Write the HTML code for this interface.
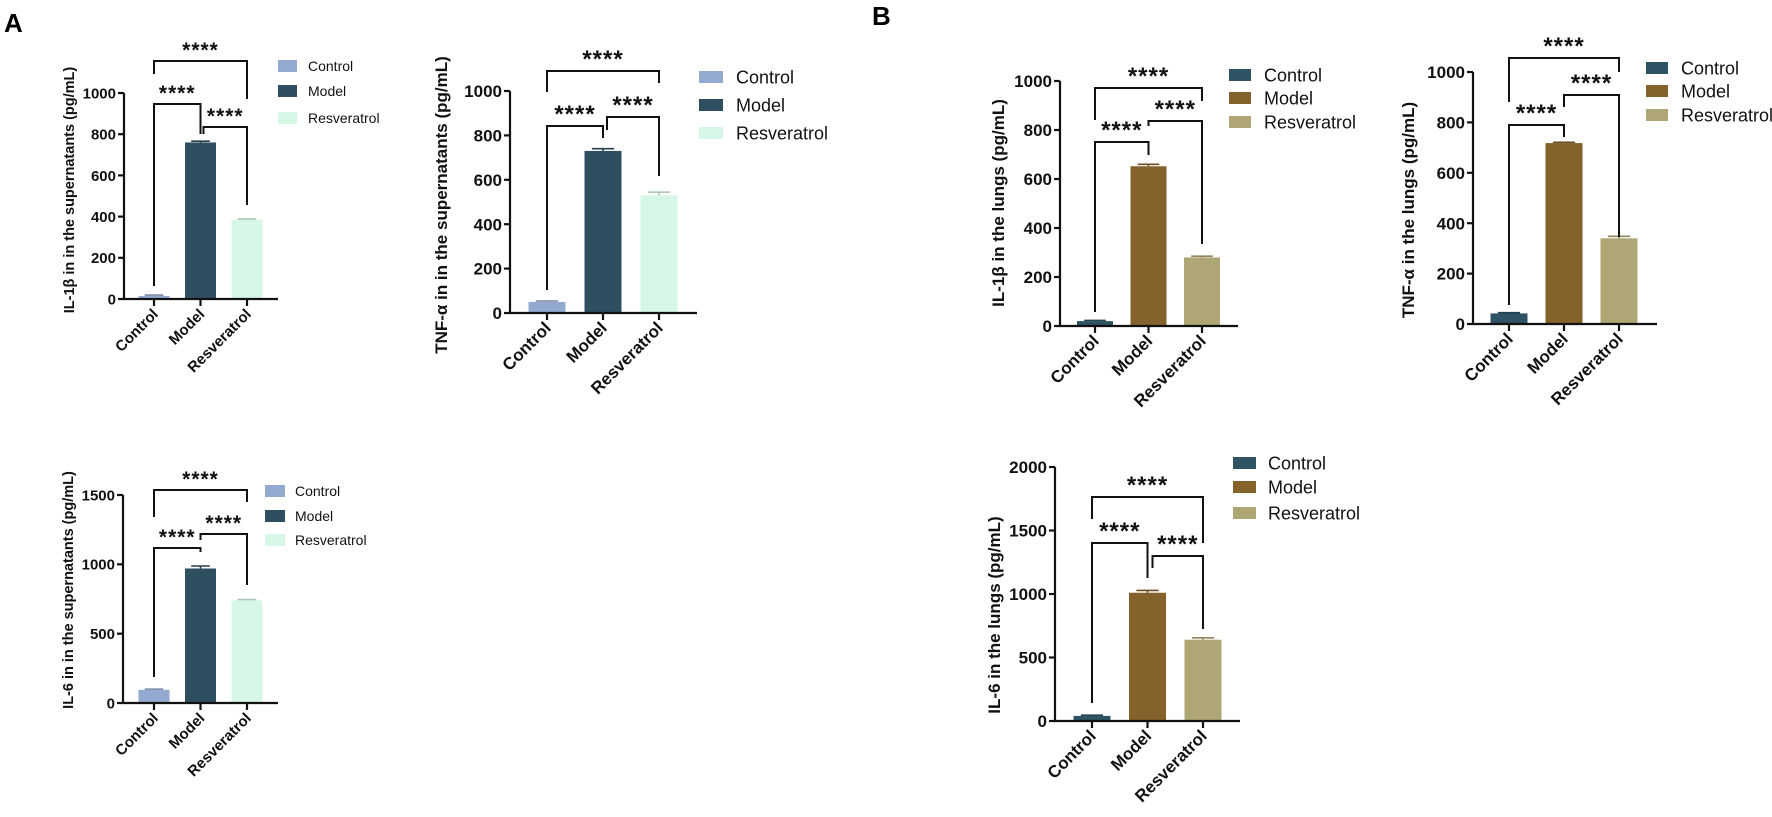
<!DOCTYPE html>
<html><head><meta charset="utf-8">
<style>
html,body{margin:0;padding:0;background:#fff;}
svg{display:block;font-family:"Liberation Sans",sans-serif;}
</style></head>
<body>
<svg id="fig" width="1772" height="817" viewBox="0 0 1772 817" xmlns="http://www.w3.org/2000/svg">
<text x="4" y="32" font-size="26" font-weight="bold">A</text>
<text x="872" y="25" font-size="26" font-weight="bold">B</text>
</svg>
<script>
const categories = ["Control","Model","Resveratrol"];
const il1bSupValues = [15, 760, 385];
const il1bSupErrors = [4, 6, 3];
const tnfSupValues = [50, 730, 530];
const tnfSupErrors = [4, 10, 14];
const il6SupValues = [95, 970, 740];
const il6SupErrors = [5, 18, 6];
const il1bLungValues = [20, 652, 280];
const il1bLungErrors = [3, 8, 5];
const tnfLungValues = [42, 718, 340];
const tnfLungErrors = [3, 3, 8];
const il6LungValues = [40, 1010, 640];
const il6LungErrors = [6, 18, 15];
const ticks1000 = [0, 200, 400, 600, 800, 1000];
const ticks1500 = [0, 500, 1000, 1500];
const ticks2000 = [0, 500, 1000, 1500, 2000];
const sigLabel = "****";

const colorsA = ["#94a9d0","#2e4f5f","#d6f7e6"];
const colorsB = ["#2e5364","#85622b","#afa675"];
const NS = "http://www.w3.org/2000/svg";
const svg = document.getElementById('fig');

function mk(tag, attrs, parent, text){
  const e = document.createElementNS(NS, tag);
  for (const k in attrs) e.setAttribute(k, attrs[k]);
  if (text !== undefined) e.textContent = text;
  (parent||svg).appendChild(e);
  return e;
}

function chart(c){
  const g = mk('g', {});
  
  
  const maxV = c.ticks[c.ticks.length-1];
  const yS = v => c.y0 - (v/maxV)*(c.y0 - c.yTop);
  const xS = i => c.x1 + i*c.step;
  const fs = c.fs;
  c.values.forEach((v,i)=>{
    const b = mk('rect', {x:xS(i)-c.bw/2, y:yS(v), width:c.bw, height:c.y0-yS(v), fill:c.colors[i]}, g);
    
    
    const eTop = yS(v + c.errors[i]);
    const eb = mk('path', {d:`M${xS(i)} ${yS(v)}V${eTop}M${xS(i)-c.bw*0.3} ${eTop}H${xS(i)+c.bw*0.3}`, stroke:c.colors[i], 'stroke-width':1.6, fill:'none', filter:'brightness(0.8)'}, g);
    
    
  });
  const ya = mk('path', {d:`M${c.ax} ${c.yTop}V${c.y0}H${c.axEnd}`, stroke:'#111', 'stroke-width':2.2, fill:'none'}, g);
  
  
  c.ticks.forEach(t=>{
    mk('line', {x1:c.ax-6, x2:c.ax, y1:yS(t), y2:yS(t), stroke:'#111', 'stroke-width':2.2}, g);
    const tl = mk('text', {x:c.ax-8, y:yS(t)+fs*0.36, 'font-size':fs, 'font-weight':'bold', 'text-anchor':'end', fill:'#111'}, g, String(t));
    
    
  });
  categories.forEach((cat,i)=>{
    mk('line', {x1:xS(i), x2:xS(i), y1:c.y0, y2:c.y0+7, stroke:'#111', 'stroke-width':2.2}, g);
    const xl = mk('text', {transform:`translate(${xS(i)+5},${c.y0+16}) rotate(-45)`, 'font-size':fs, 'font-weight':'bold', 'text-anchor':'end', fill:'#111'}, g, cat);
    
    
  });
  const yt = mk('text', {transform:`translate(${c.titleX},${c.titleY}) rotate(-90)`, 'font-size':c.tfs, 'font-weight':'bold', 'text-anchor':'middle', fill:'#111'}, g, c.title);
  
  
  c.brackets.forEach(b=>{
    const xa = xS(b[0]) + (b[5]||0), xb = xS(b[1]);
    const p = mk('path', {d:`M${xa} ${b[3]}V${b[2]}H${xb}V${b[4]}`, stroke:'#111', 'stroke-width':2, fill:'none'}, g);
    
    
    const st = mk('text', {x:(xa+xb)/2, y:b[2]-4, 'font-size':c.sfs, 'font-weight':'bold', 'text-anchor':'middle', fill:'#111', 'letter-spacing':'1'}, g, sigLabel);
    
    
  });
  categories.forEach((cat,i)=>{
    const ly = c.leg.y[i];
    const sw = mk('rect', {x:c.leg.x, y:ly-c.leg.h/2, width:c.leg.w, height:c.leg.h, fill:c.colors[i]}, g);
    
    
    const lt = mk('text', {x:c.leg.tx, y:ly+c.leg.fs*0.36, 'font-size':c.leg.fs, fill:'#111'}, g, cat);
    
    
  });
}

chart({name:'chart-il1b-supernatants', values:il1bSupValues, errors:il1bSupErrors, ticks:ticks1000, colors:colorsA,
  ax:124, y0:299, yTop:93, axEnd:278, x1:154, step:46.5, bw:31, fs:15, tfs:14.5, sfs:21,
  title:'IL-1β in  in the supernatants (pg/mL)', titleX:74, titleY:190,
  brackets:[[0,2,61,74,99],[0,1,104,286,134],[1,2,127,134,205,3]],
  leg:{x:278,w:19,h:12,y:[66,91,118],tx:308,fs:14}});
chart({name:'chart-tnf-supernatants', values:tnfSupValues, errors:tnfSupErrors, ticks:ticks1000, colors:colorsA,
  ax:510, y0:313, yTop:91, axEnd:697, x1:547, step:56, bw:37, fs:17, tfs:17, sfs:24,
  title:'TNF-α in in the supernatants (pg/mL)', titleX:447, titleY:205,
  brackets:[[0,2,71,92,83],[0,1,126,290,138],[1,2,117,130,176,4]],
  leg:{x:699,w:24,h:12,y:[77,105,133],tx:736,fs:18}});
chart({name:'chart-il6-supernatants', values:il6SupValues, errors:il6SupErrors, ticks:ticks1500, colors:colorsA,
  ax:123, y0:703, yTop:495, axEnd:278, x1:154, step:46.5, bw:31, fs:15, tfs:14.5, sfs:21,
  title:'IL-6 in  in the supernatants (pg/mL)', titleX:73, titleY:590,
  brackets:[[0,2,490,517,502],[0,1,548,677,552],[1,2,534,540,585]],
  leg:{x:265,w:20,h:12,y:[491,516,540],tx:295,fs:14}});
chart({name:'chart-il1b-lungs', values:il1bLungValues, errors:il1bLungErrors, ticks:ticks1000, colors:colorsB,
  ax:1060, y0:326, yTop:81, axEnd:1238, x1:1095, step:53.5, bw:36, fs:17, tfs:17, sfs:24,
  title:'IL-1β in the lungs (pg/mL)', titleX:1004, titleY:203,
  brackets:[[0,2,88,120,101],[0,1,142,312,155],[1,2,121,126,244]],
  leg:{x:1229,w:22,h:12,y:[75,98,122],tx:1264,fs:18}});
chart({name:'chart-tnf-lungs', values:tnfLungValues, errors:tnfLungErrors, ticks:ticks1000, colors:colorsB,
  ax:1473, y0:324, yTop:72, axEnd:1657, x1:1509, step:55, bw:37, fs:17, tfs:17, sfs:24,
  title:'TNF-α in the lungs (pg/mL)', titleX:1414, titleY:210,
  brackets:[[0,2,58,102,72],[0,1,125,305,137],[1,2,95,107,237]],
  leg:{x:1646,w:22,h:12,y:[68,91,115],tx:1681,fs:18}});
chart({name:'chart-il6-lungs', values:il6LungValues, errors:il6LungErrors, ticks:ticks2000, colors:colorsB,
  ax:1055, y0:721, yTop:467, axEnd:1240, x1:1092, step:55.5, bw:37, fs:17, tfs:17, sfs:24,
  title:'IL-6 in the lungs (pg/mL)', titleX:1000, titleY:615,
  brackets:[[0,2,497,519,543],[0,1,543,703,578],[1,2,556,568,629,5]],
  leg:{x:1233,w:23,h:12,y:[463,487,513],tx:1268,fs:18}});
</script>
</body></html>
